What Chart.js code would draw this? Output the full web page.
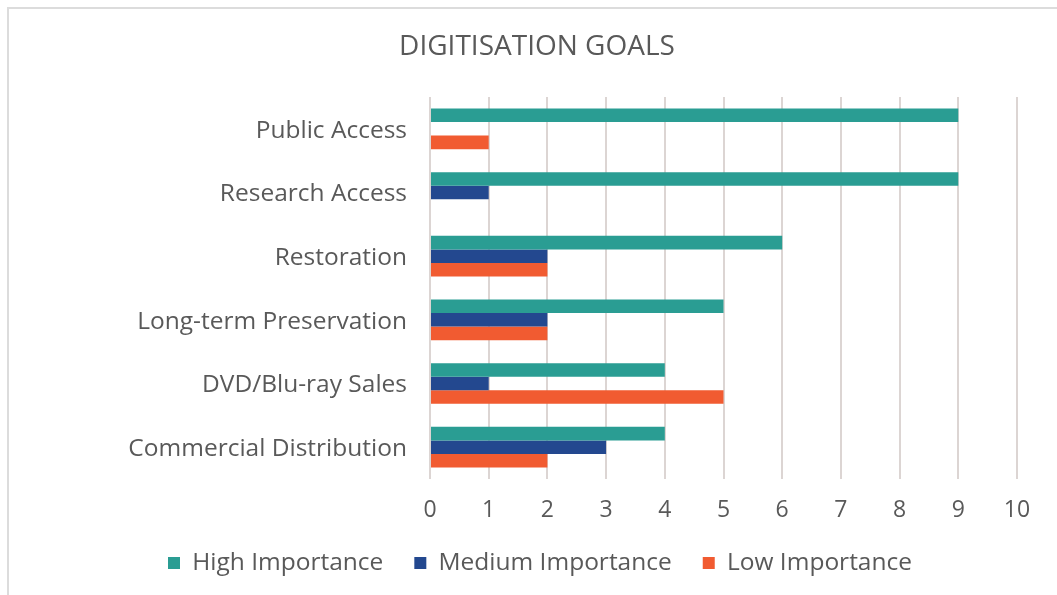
<!DOCTYPE html>
<html>
<head>
<meta charset="utf-8">
<script src="https://cdn.jsdelivr.net/npm/chart.js@4.4.0/dist/chart.umd.min.js"></script>
<style>
  html, body { margin: 0; padding: 0; background: #ffffff; overflow: hidden; width: 1057px; height: 595px; }
  #frame { position: absolute; left: 7px; top: 7px; width: 1062px; height: 620px; border: 2px solid #dcdcdc; box-sizing: border-box; background: #ffffff; }
  #c { position: absolute; left: 0; top: 0; }
</style>
</head>
<body>
<div id="frame"></div>
<canvas id="c" width="1076" height="620"></canvas>
<script>
const categories = ['Public Access', 'Research Access', 'Restoration', 'Long-term Preservation', 'DVD/Blu-ray Sales', 'Commercial Distribution'];
const seriesNames = ['High Importance', 'Medium Importance', 'Low Importance'];
const highImportance = [9, 9, 6, 5, 4, 4];
const mediumImportance = [0, 1, 2, 2, 1, 3];
const lowImportance = [1, 0, 2, 2, 5, 2];
const xTickLabels = ['0', '1', '2', '3', '4', '5', '6', '7', '8', '9', '10'];
const titleText = 'DIGITISATION GOALS';

const FONT = '"Open Sans", Lato, sans-serif';
const TEXT = '#595959';

// recentre title and legend over the full framed width (as in the reference)
const recentre = {
  id: 'recentre',
  afterLayout(chart) {
    if (chart.titleBlock) { chart.titleBlock.left = 0; chart.titleBlock.right = 1074; }
    if (chart.legend) { chart.legend.left = 0; chart.legend.right = 1080; }
  }
};

new Chart(document.getElementById('c'), {
  type: 'bar',
  data: {
    labels: categories,
    datasets: [
      { label: seriesNames[0], data: highImportance, backgroundColor: '#2a9d93' },
      { label: seriesNames[1], data: mediumImportance, backgroundColor: '#23488f' },
      { label: seriesNames[2], data: lowImportance, backgroundColor: '#f15b31' }
    ]
  },
  plugins: [recentre],
  options: {
    indexAxis: 'y',
    responsive: false,
    animation: false,
    devicePixelRatio: 1,
    layout: { padding: { left: 0, right: 59, top: 0, bottom: 34.75 } },
    datasets: { bar: { barPercentage: 1.0, categoryPercentage: 0.64, borderWidth: 0 } },
    scales: {
      x: {
        min: 0, max: 10,
        ticks: {
          stepSize: 1,
          color: TEXT,
          font: { family: FONT, size: 23 },
          padding: 18,
          callback: (v, i) => xTickLabels[i]
        },
        grid: { color: '#dcd5d3', lineWidth: 2, drawTicks: false },
        border: { display: false },
        afterFit: (s) => { s.height = 40.75; }
      },
      y: {
        ticks: { color: TEXT, font: { family: FONT, size: 24.5 }, padding: 23, labelOffset: 2 },
        grid: { display: false, drawTicks: false },
        border: { display: false },
        afterFit: (s) => { s.width = 430; }
      }
    },
    plugins: {
      title: {
        display: true,
        text: titleText,
        color: TEXT,
        font: { family: FONT, size: 28, weight: 'normal' },
        padding: { top: 30.6, bottom: 32.8 }
      },
      legend: {
        position: 'bottom',
        labels: {
          boxWidth: 12, boxHeight: 12,
          color: TEXT,
          font: { family: FONT, size: 24.5 },
          padding: 31
        }
      },
      tooltip: { enabled: false }
    }
  }
});
</script>
</body>
</html>
